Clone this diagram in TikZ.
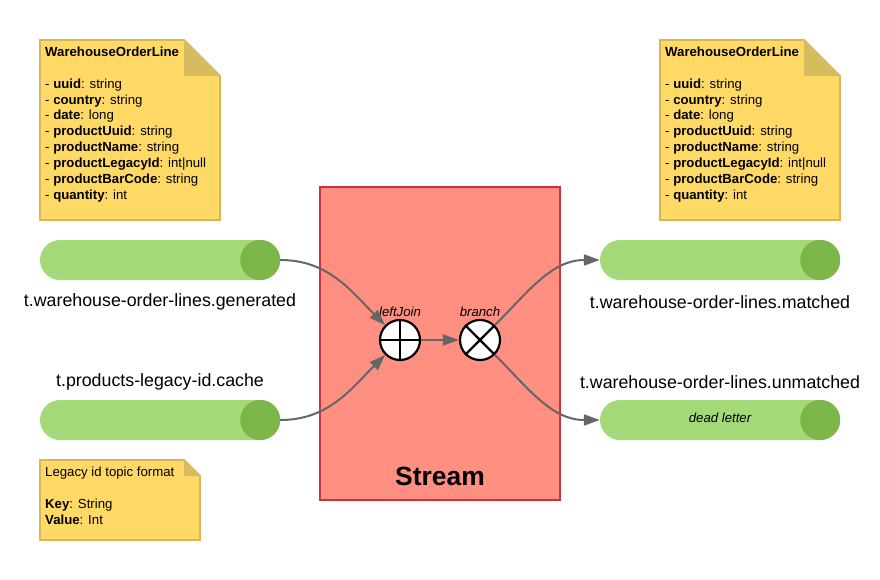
\documentclass[tikz,border=0pt]{standalone}
\usepackage{fontspec}
\setmainfont{Liberation Sans}
\usetikzlibrary{arrows.meta,shapes.geometric}
\definecolor{notefill}{HTML}{FFD966}
\definecolor{notestroke}{HTML}{D6B656}
\definecolor{notefold}{HTML}{D6BC5E}
\definecolor{topiclight}{HTML}{A3D977}
\definecolor{topicdark}{HTML}{7AB648}
\definecolor{streamfill}{HTML}{FF8F80}
\definecolor{streamstroke}{HTML}{CC3340}
\definecolor{edgegray}{HTML}{666666}
\newcommand{\notefont}{\fontsize{13.2}{15.84}\selectfont}
\newcommand{\labfont}{\fontsize{17.8}{21}\selectfont}
\tikzset{
  notebody/.style={fill=notefill,draw=notestroke,line width=1.8pt,line join=miter},
  notefoldst/.style={fill=notefold},
  notetext/.style={anchor=base west,inner sep=0pt,font=\notefont},
  topic/.style={rectangle,rounded corners=20pt,fill=topiclight,minimum width=240pt,minimum height=40pt,inner sep=0pt,font=\notefont\itshape},
  topicend/.style={fill=topicdark},
  topiclabel/.style={inner sep=0pt,font=\labfont},
  opcircle/.style={circle,draw=black,fill=white,line width=2.2pt,minimum size=40pt,inner sep=0pt},
  oplabel/.style={anchor=base,inner sep=0pt,font=\notefont\itshape},
  flow/.style={draw=edgegray,line width=2pt,-{Triangle[length=16pt,width=11pt]}},
  streambox/.style={rectangle,fill=streamfill,draw=streamstroke,line width=2pt,minimum width=240pt,minimum height=313pt,inner sep=0pt}
}
\begin{document}
\begin{tikzpicture}[x=1pt,y=1pt]
\useasboundingbox (0,0) rectangle (880,-580);
% notes
\draw[notebody] (40,-40) -- (184,-40) -- (220,-76) -- (220,-220) -- (40,-220) -- cycle;
\fill[notefoldst] (184,-40) -- (220,-76) -- (184,-76) -- cycle;
\node[notetext] (n1) at (45,-56.5) {\parbox[t]{170pt}{\notefont\textbf{WarehouseOrderLine}\\[15.84pt]
- \textbf{uuid}: string\\
- \textbf{country}: string\\
- \textbf{date}: long\\
- \textbf{productUuid}: string\\
- \textbf{productName}: string\\
- \textbf{productLegacyId}: int|null\\
- \textbf{productBarCode}: string\\
- \textbf{quantity}: int}};
\draw[notebody] (660,-40) -- (804,-40) -- (840,-76) -- (840,-220) -- (660,-220) -- cycle;
\fill[notefoldst] (804,-40) -- (840,-76) -- (804,-76) -- cycle;
\node[notetext] (n2) at (665,-56.5) {\parbox[t]{170pt}{\notefont\textbf{WarehouseOrderLine}\\[15.84pt]
- \textbf{uuid}: string\\
- \textbf{country}: string\\
- \textbf{date}: long\\
- \textbf{productUuid}: string\\
- \textbf{productName}: string\\
- \textbf{productLegacyId}: int|null\\
- \textbf{productBarCode}: string\\
- \textbf{quantity}: int}};
\draw[notebody] (40,-460) -- (184,-460) -- (200,-476) -- (200,-540) -- (40,-540) -- cycle;
\fill[notefoldst] (184,-460) -- (200,-476) -- (184,-476) -- cycle;
\node[notetext] (n3) at (45,-476.5) {\parbox[t]{150pt}{\notefont Legacy id topic format\\[15.84pt]
\textbf{Key}: String\\
\textbf{Value}: Int}};
% stream
\node[streambox] (stream) at (440,-343.5) {};
\node[inner sep=0pt,font=\fontsize{26.4}{30}\selectfont\bfseries] (streamlabel) at (440,-476) {Stream};
% topics
\node[topic] (gen) at (160,-260) {};
\fill[topicend] ([xshift=-20pt]gen.east) circle (20pt);
\node[topiclabel] (genl) at (160,-302) {t.warehouse-order-lines.generated};
\node[topic] (cache) at (160,-420) {};
\fill[topicend] ([xshift=-20pt]cache.east) circle (20pt);
\node[topiclabel] (cachel) at (160,-382) {t.products-legacy-id.cache};
\node[topic] (matched) at (720,-260) {};
\fill[topicend] ([xshift=-20pt]matched.east) circle (20pt);
\node[topiclabel] (matchedl) at (720,-302) {t.warehouse-order-lines.matched};
\node[topic] (unmatched) at (720,-420) {};
\fill[topicend] ([xshift=-20pt]unmatched.east) circle (20pt);
\node[inner sep=0pt,font=\notefont\itshape] (dl) at (720,-418) {dead letter};
\node[topiclabel] (unmatchedl) at (720,-382) {t.warehouse-order-lines.unmatched};
% operators
\node[opcircle] (lj) at (400,-340) {};
\draw[line width=2.2pt] (lj.north) -- (lj.south) (lj.west) -- (lj.east);
\node[oplabel] (ljl) at (400,-316) {leftJoin};
\node[opcircle] (br) at (480,-340) {};
\draw[line width=2.2pt] (br.north west) -- (br.south east) (br.north east) -- (br.south west);
\node[oplabel] (brl) at (480,-316) {branch};
% flows
\draw[flow] (gen.east) to[out=0,in=135] (lj.north west);
\draw[flow] (cache.east) to[out=0,in=225] (lj.south west);
\draw[flow] (lj.east) -- (br.west);
\draw[flow] (br.north east) to[out=45,in=180] (matched.west);
\draw[flow] (br.south east) to[out=-45,in=180] (unmatched.west);
\end{tikzpicture}
\end{document}
